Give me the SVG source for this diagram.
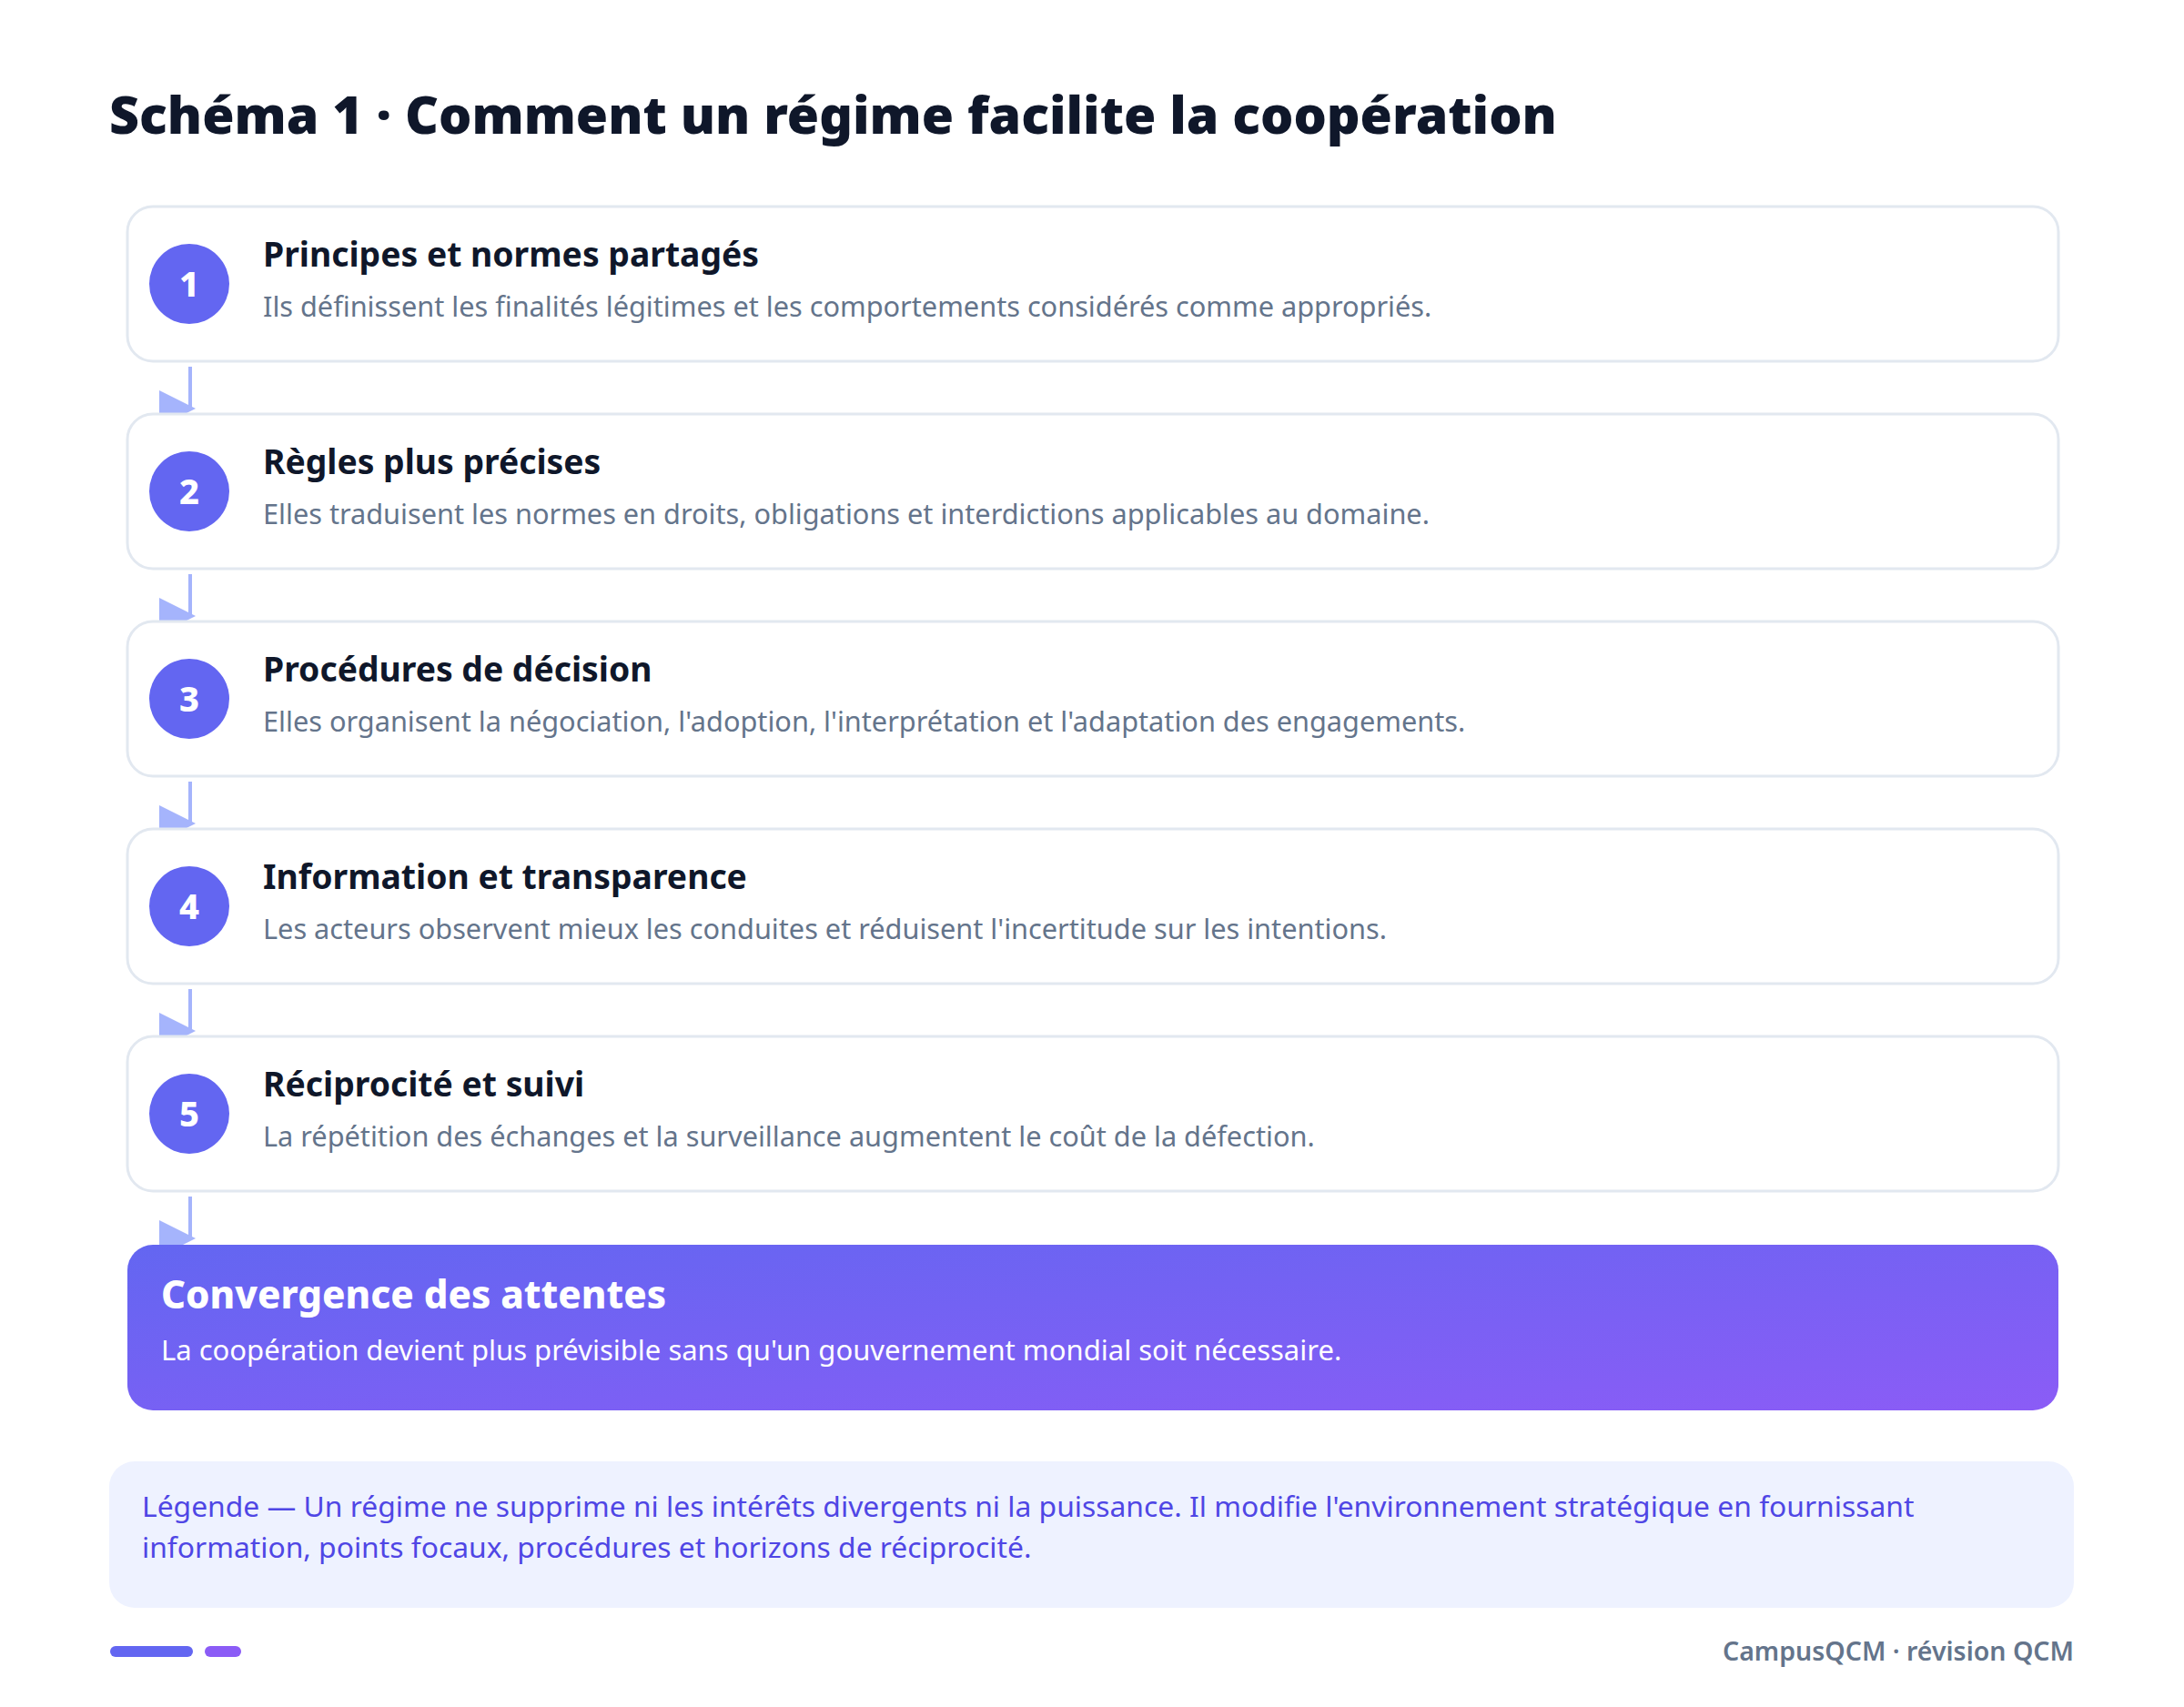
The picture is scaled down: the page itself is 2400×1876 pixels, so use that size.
<svg xmlns="http://www.w3.org/2000/svg" width="2400" height="1876" viewBox="0 0 2400 1876">
<style>
.card{fill:#ffffff;stroke:#e2e8f0;stroke-width:3}
.num{fill:#6366f1}
.numt{font-family:"Noto Sans","Liberation Sans",sans-serif;font-weight:800;font-size:38px;fill:#ffffff;text-anchor:middle}
.head{font-family:"Noto Sans","Liberation Sans",sans-serif;font-weight:700;font-size:37.3px;fill:#0f172a}
.desc{font-family:"Noto Sans","Liberation Sans",sans-serif;font-size:30.7px;fill:#64748b}
.conn{stroke:#a5b4fc;stroke-width:4;fill:none;marker-end:url(#arr)}
</style>
<defs>
<marker id="arr" viewBox="0 0 10 10" refX="8.5" refY="5" markerWidth="10" markerHeight="10" orient="0">
<path d="M0,0 L10,5 L0,10 z" fill="#a5b4fc"/>
</marker>
<linearGradient id="gfin" x1="0" y1="0" x2="1" y2="1">
<stop offset="0" stop-color="#6366f1"/>
<stop offset="1" stop-color="#8b5cf6"/>
</linearGradient>
</defs>
<rect width="2400" height="1876" fill="#ffffff"/>
<text x="120" y="147" font-family="Noto Sans, Liberation Sans, sans-serif" font-weight="900" font-size="57.2" fill="#0f172a">Schéma 1 · Comment un régime facilite la coopération</text>

<g id="connectors">
<line class="conn" x1="209" y1="403" x2="209" y2="449"/>
<line class="conn" x1="209" y1="631" x2="209" y2="677"/>
<line class="conn" x1="209" y1="859" x2="209" y2="905"/>
<line class="conn" x1="209" y1="1087" x2="209" y2="1133"/>
<line class="conn" x1="209" y1="1315" x2="209" y2="1361"/>
</g>

<g id="node1">
<rect class="card" x="140" y="227" width="2122" height="170" rx="28"/>
<circle class="num" cx="208" cy="312" r="44"/>
<text class="numt" x="208" y="326">1</text>
<text class="head" x="289" y="293">Principes et normes partagés</text>
<text class="desc" x="289" y="348">Ils définissent les finalités légitimes et les comportements considérés comme appropriés.</text>
</g>
<g id="node2">
<rect class="card" x="140" y="455" width="2122" height="170" rx="28"/>
<circle class="num" cx="208" cy="540" r="44"/>
<text class="numt" x="208" y="554">2</text>
<text class="head" x="289" y="521">Règles plus précises</text>
<text class="desc" x="289" y="576">Elles traduisent les normes en droits, obligations et interdictions applicables au domaine.</text>
</g>
<g id="node3">
<rect class="card" x="140" y="683" width="2122" height="170" rx="28"/>
<circle class="num" cx="208" cy="768" r="44"/>
<text class="numt" x="208" y="782">3</text>
<text class="head" x="289" y="749">Procédures de décision</text>
<text class="desc" x="289" y="804">Elles organisent la négociation, l'adoption, l'interprétation et l'adaptation des engagements.</text>
</g>
<g id="node4">
<rect class="card" x="140" y="911" width="2122" height="170" rx="28"/>
<circle class="num" cx="208" cy="996" r="44"/>
<text class="numt" x="208" y="1010">4</text>
<text class="head" x="289" y="977">Information et transparence</text>
<text class="desc" x="289" y="1032">Les acteurs observent mieux les conduites et réduisent l'incertitude sur les intentions.</text>
</g>
<g id="node5">
<rect class="card" x="140" y="1139" width="2122" height="170" rx="28"/>
<circle class="num" cx="208" cy="1224" r="44"/>
<text class="numt" x="208" y="1238">5</text>
<text class="head" x="289" y="1205">Réciprocité et suivi</text>
<text class="desc" x="289" y="1260">La répétition des échanges et la surveillance augmentent le coût de la défection.</text>
</g>
<g id="final">
<rect x="140" y="1368" width="2122" height="182" rx="28" fill="url(#gfin)"/>
<text x="177" y="1438" font-family="Noto Sans, Liberation Sans, sans-serif" font-weight="800" font-size="42" fill="#ffffff">Convergence des attentes</text>
<text x="177" y="1495" font-family="Noto Sans, Liberation Sans, sans-serif" font-size="31" fill="#ffffff">La coopération devient plus prévisible sans qu'un gouvernement mondial soit nécessaire.</text>
</g>
<g id="legend">
<rect x="120" y="1606" width="2159" height="161" rx="28" fill="#eef2ff"/>
<text x="156" y="1667" font-family="Noto Sans, Liberation Sans, sans-serif" font-size="31.8" fill="#4f46e5">Légende — Un régime ne supprime ni les intérêts divergents ni la puissance. Il modifie l'environnement stratégique en fournissant</text>
<text x="156" y="1712" font-family="Noto Sans, Liberation Sans, sans-serif" font-size="31.8" fill="#4f46e5">information, points focaux, procédures et horizons de réciprocité.</text>
</g>
<g id="footer">
<rect x="121" y="1809" width="91" height="12" rx="6" fill="#6366f1"/>
<rect x="225" y="1809" width="40" height="12" rx="6" fill="#8b5cf6"/>
<text x="2279" y="1825" text-anchor="end" font-family="Noto Sans, Liberation Sans, sans-serif" font-weight="600" font-size="28.5" fill="#64748b">CampusQCM · révision QCM</text>
</g>
</svg>
